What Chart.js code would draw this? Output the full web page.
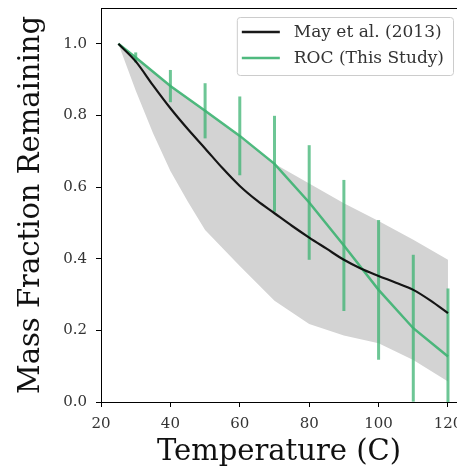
<!DOCTYPE html>
<html>
<head>
<meta charset="utf-8">
<script src="https://cdn.jsdelivr.net/npm/chart.js@4/dist/chart.umd.min.js"></script>
<style>
	html, body { margin: 0; padding: 0; background: #fff; overflow: hidden; }
	#wrap { width: 457px; height: 470px; }
</style>
</head>
<body>
<div id="wrap"><canvas id="myChart" width="457" height="470"></canvas></div>
<script>
// May et al. (2013)
const mayTemps = [25, 30, 35, 40, 45, 50, 55, 60, 65, 70, 75, 80, 85, 90, 95, 100, 105, 110, 115, 120];
const mayValues = [1.0, 0.951, 0.884, 0.820, 0.762, 0.708, 0.653, 0.603, 0.562, 0.527, 0.492, 0.459, 0.428, 0.397, 0.372, 0.352, 0.333, 0.313, 0.283, 0.248];

// banda gris (rango de May et al.)
const bandTemps = [25, 30, 35, 40, 45, 50, 60, 70, 80, 90, 100, 110, 120];
const bandLower = [1.0, 0.87, 0.75, 0.645, 0.56, 0.48, 0.38, 0.283, 0.218, 0.186, 0.164, 0.117, 0.057];
const bandUpper = [1.0, 0.965, 0.925, 0.882, 0.847, 0.812, 0.74, 0.665, 0.61, 0.555, 0.505, 0.453, 0.397];

// ROC (este estudio) con barras de error
const rocTemps = [25, 30, 40, 50, 60, 70, 80, 90, 100, 110, 120];
const rocValues = [1.0, 0.962, 0.882, 0.813, 0.743, 0.665, 0.557, 0.437, 0.313, 0.206, 0.127];
const rocErrors = [0, 0.014, 0.045, 0.077, 0.11, 0.134, 0.16, 0.183, 0.195, 0.205, 0.19];

const xTicks = [20, 40, 60, 80, 100, 120];
const yTicks = [0.0, 0.2, 0.4, 0.6, 0.8, 1.0];

const FONT = "'DejaVu Serif', 'Liberation Serif', serif";
const GREEN = 'rgba(60, 179, 113, 0.9)';
const GREEN_BAR = 'rgba(60, 179, 113, 0.75)';
const BLACK = 'rgba(0, 0, 0, 0.9)';

function toPoints(xs, ys) {
	return xs.map((x, i) => ({ x: x, y: ys[i] }));
}

// barras de error verticales, justo encima de la banda gris
const errorBars = {
	id: 'errorBars',
	afterDatasetDraw(chart, args) {
		if (args.index !== 1) return;
		const ctx = chart.ctx;
		const xs = chart.scales.x, ys = chart.scales.y;
		const area = chart.chartArea;
		ctx.save();
		ctx.beginPath();
		ctx.rect(area.left, area.top, area.right - area.left, area.bottom - area.top);
		ctx.clip();
		ctx.strokeStyle = GREEN_BAR;
		ctx.lineWidth = 3;
		rocTemps.forEach((t, i) => {
			if (!rocErrors[i]) return;
			const px = xs.getPixelForValue(t);
			ctx.beginPath();
			ctx.moveTo(px, ys.getPixelForValue(rocValues[i] - rocErrors[i]));
			ctx.lineTo(px, ys.getPixelForValue(rocValues[i] + rocErrors[i]));
			ctx.stroke();
		});
		ctx.restore();
	}
};

// linea del marco superior + leyenda dentro del area
const frameLegend = {
	id: 'frameLegend',
	afterDraw(chart) {
		const ctx = chart.ctx;
		const area = chart.chartArea;
		ctx.save();
		ctx.strokeStyle = '#000';
		ctx.lineWidth = 1;
		ctx.beginPath();
		ctx.moveTo(area.left, area.top + 0.5);
		ctx.lineTo(area.right, area.top + 0.5);
		ctx.stroke();

		const items = [
			{ text: chart.data.datasets[3].label, color: BLACK },
			{ text: chart.data.datasets[2].label, color: GREEN }
		];
		ctx.font = '17px ' + FONT;
		const textW = Math.max(...items.map(it => ctx.measureText(it.text).width));
		const w = 5 + 38 + 14 + textW + 9;
		const h = 58;
		const x0 = area.right - 4 - w;
		const y0 = area.top + 9;
		ctx.fillStyle = 'rgba(255,255,255,0.8)';
		ctx.strokeStyle = '#cccccc';
		ctx.beginPath();
		ctx.roundRect(x0 + 0.5, y0 + 0.5, w, h, 3);
		ctx.fill();
		ctx.stroke();
		items.forEach((it, i) => {
			const cy = y0 + 15 + i * 26;
			ctx.strokeStyle = it.color;
			ctx.lineWidth = 2.5;
			ctx.beginPath();
			ctx.moveTo(x0 + 5, cy);
			ctx.lineTo(x0 + 43, cy);
			ctx.stroke();
			ctx.fillStyle = '#333';
			ctx.textBaseline = 'middle';
			ctx.textAlign = 'left';
			ctx.fillText(it.text, x0 + 57, cy + 1);
		});
		ctx.restore();
	}
};

const ctx = document.getElementById('myChart').getContext('2d');
const myChart = new Chart(ctx, {
	type: 'line',
	data: {
		datasets: [
			{
				label: 'lower',
				data: toPoints(bandTemps, bandLower),
				borderWidth: 0,
				pointRadius: 0,
				fill: false,
				order: 4
			},
			{
				label: 'upper',
				data: toPoints(bandTemps, bandUpper),
				borderWidth: 0,
				pointRadius: 0,
				backgroundColor: '#d3d3d3',
				fill: 0,
				order: 3
			},
			{
				label: 'ROC (This Study)',
				data: toPoints(rocTemps, rocValues),
				borderColor: GREEN,
				borderWidth: 2.5,
				pointRadius: 0,
				fill: false,
				order: 2
			},
			{
				label: 'May et al. (2013)',
				data: toPoints(mayTemps, mayValues),
				borderColor: BLACK,
				borderWidth: 2.2,
				pointRadius: 0,
				cubicInterpolationMode: 'monotone',
				fill: false,
				order: 1
			}
		]
	},
	options: {
		responsive: false,
		animation: false,
		layout: { padding: { top: 8, left: 0, right: 0, bottom: 0 } },
		plugins: {
			legend: { display: false },
			tooltip: { enabled: false }
		},
		scales: {
			x: {
				type: 'linear',
				min: 20,
				max: 122.6,
				afterBuildTicks: (scale) => { scale.ticks = xTicks.map(v => ({ value: v })); },
				afterFit: (scale) => {
					scale.height = 68;
					scale.paddingLeft = 0;
					scale.paddingRight = 0;
				},
				grid: { drawOnChartArea: false, drawTicks: true, tickLength: 5, color: '#000', tickWidth: 1 },
				border: { display: true, color: '#000', width: 1 },
				ticks: {
					color: '#333',
					font: { family: FONT, size: 15 },
					padding: 8,
					maxRotation: 0,
					callback: (v) => String(v)
				},
				title: {
					display: true,
					text: 'Temperature (C)',
					color: '#111',
					font: { family: FONT, size: 29 },
					padding: { top: 0, bottom: 0 }
				}
			},
			y: {
				min: 0,
				max: 1.1,
				afterBuildTicks: (scale) => { scale.ticks = yTicks.map(v => ({ value: v })); },
				afterFit: (scale) => {
					scale.width = 101;
					scale.paddingTop = 0;
					scale.paddingBottom = 0;
				},
				grid: { drawOnChartArea: false, drawTicks: true, tickLength: 5, color: '#000', tickWidth: 1 },
				border: { display: true, color: '#000', width: 1 },
				ticks: {
					color: '#333',
					font: { family: FONT, size: 15 },
					padding: 9,
					callback: (v) => Number(v).toFixed(1)
				},
				title: {
					display: true,
					text: 'Mass Fraction Remaining',
					color: '#111',
					font: { family: FONT, size: 29 },
					padding: { top: 14, bottom: 0 }
				}
			}
		}
	},
	plugins: [errorBars, frameLegend]
});
</script>
</body>
</html>
